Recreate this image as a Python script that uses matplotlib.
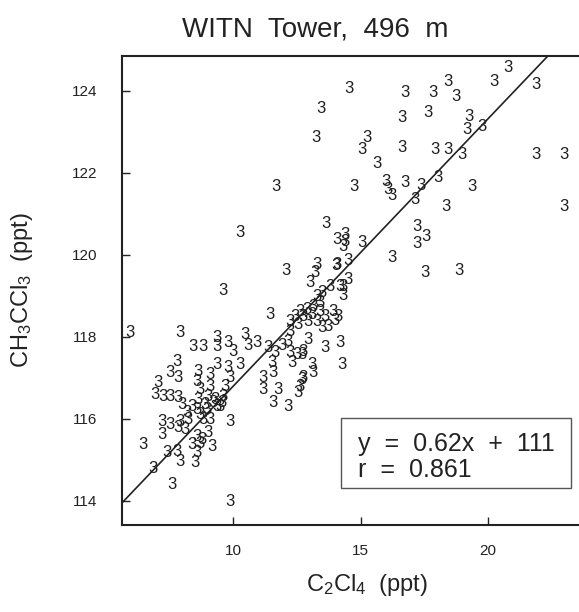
import matplotlib
matplotlib.use("Agg")
import matplotlib.pyplot as plt
from matplotlib.patches import Rectangle

plt.rcParams['font.family'] = ['Liberation Sans', 'DejaVu Sans']
plt.rcParams['mathtext.default'] = 'regular'

# C2Cl4 (ppt) and CH3CCl3 (ppt) pairs
c2cl4 = [
    20.78, 20.24, 21.88, 14.55, 16.75, 17.84, 18.43, 18.75, 13.45, 16.63,
    17.65, 19.25, 19.18, 19.76, 13.25, 15.25, 15.06, 16.63, 15.65, 17.92,
    18.43, 18.98, 21.88, 22.98, 14.75, 16.00, 16.08, 16.24, 16.75, 17.37,
    17.14, 18.04, 19.37, 18.35, 22.98, 11.69, 10.27, 13.65, 17.22, 17.57,
    17.22, 16.24, 17.53, 18.86, 14.08, 14.39, 14.39, 15.06, 14.04, 14.51,
    14.31, 14.51, 14.31, 14.31,
    12.08, 9.61, 11.45, 13.29, 13.22, 13.02, 13.49, 14.08, 14.20, 13.80,
    13.29, 13.41, 13.14, 12.90, 12.63, 12.43, 12.75, 13.10, 13.41, 13.61,
    13.29, 12.94, 13.49, 12.55, 12.24, 12.24, 13.92, 14.00, 13.73, 14.12,
    11.37, 11.65, 11.92, 12.16, 11.53, 11.57, 12.24, 12.31, 12.51, 12.71,
    12.94, 13.61, 13.10, 13.14, 12.75, 12.71, 12.63, 12.55, 11.18, 11.18,
    11.76, 11.57, 12.16, 10.94, 14.20, 14.27, 12.75,
    5.96, 7.92, 8.43, 8.82, 9.37, 9.37, 9.80, 10.00, 10.47, 10.59,
    7.80, 7.53, 7.84, 9.37, 9.80, 10.27, 7.06, 6.94, 7.25, 7.53,
    7.84, 8.00, 8.63, 8.59, 8.71, 8.63, 9.10, 9.10, 9.02, 9.69,
    9.61, 9.49, 9.88, 9.88, 7.22, 7.53, 7.92, 8.24, 8.12, 8.71,
    8.98, 9.10, 9.29, 9.37, 6.47, 6.86, 7.61, 7.41, 7.80, 7.92,
    8.39, 8.51, 8.59, 9.18, 8.78, 9.88, 7.22, 7.84, 8.20, 8.39,
    8.59, 8.59, 8.90, 9.22, 9.57, 8.82, 9.02, 8.71,
]
ch3ccl3 = [
    124.56, 124.24, 124.15, 124.05, 123.95, 123.95, 124.24, 123.85, 123.56, 123.34,
    123.46, 123.37, 123.05, 123.12, 122.85, 122.85, 122.56, 122.63, 122.24, 122.56,
    122.56, 122.44, 122.44, 122.44, 121.66, 121.78, 121.59, 121.44, 121.76, 121.68,
    121.34, 121.88, 121.66, 121.17, 121.17, 121.66, 120.54, 120.76, 120.68, 120.44,
    120.27, 119.93, 119.56, 119.63, 120.37, 120.49, 120.32, 120.29, 119.73, 119.85,
    119.22, 119.39, 119.02, 120.20,
    119.63, 119.12, 118.54, 119.76, 119.56, 119.32, 119.07, 119.76, 119.22, 119.22,
    118.98, 118.83, 118.73, 118.66, 118.61, 118.49, 118.49, 118.54, 118.61, 118.49,
    118.37, 118.37, 118.22, 118.29, 118.37, 118.12, 118.61, 118.41, 118.24, 118.49,
    117.73, 117.61, 117.80, 117.88, 117.37, 117.12, 117.61, 117.37, 117.56, 117.56,
    117.93, 117.73, 117.32, 117.12, 117.02, 116.95, 116.78, 116.63, 117.02, 116.71,
    116.71, 116.41, 116.29, 117.85, 117.85, 117.32, 117.63,
    118.10, 118.10, 117.76, 117.76, 117.76, 117.98, 117.85, 117.63, 118.05, 117.80,
    117.39, 117.12, 117.02, 117.32, 117.24, 117.32, 116.88, 116.59, 116.54, 116.54,
    116.51, 116.34, 117.15, 116.90, 116.71, 116.46, 117.07, 116.78, 116.54, 116.78,
    116.54, 116.29, 117.00, 115.93, 115.93, 115.85, 115.93, 115.98, 115.73, 116.10,
    116.22, 115.98, 116.46, 116.29, 115.37, 114.80, 114.39, 115.17, 115.20, 114.95,
    115.37, 114.93, 115.17, 115.32, 115.49, 113.98, 115.61, 115.80, 116.15, 116.29,
    115.56, 116.22, 116.34, 116.39, 116.39, 115.98, 115.66, 115.41,
]

# line as drawn on the plot
fit_slope = 0.653
fit_icpt = 110.26
fit_text = "y  =  0.62x  +  111\nr  =  0.861"

x_ticks = [10, 15, 20]
y_ticks = [114, 116, 118, 120, 122, 124]
x_lim = (5.65, 23.76)
y_lim = (113.41, 124.85)

fig = plt.figure(figsize=(5.79, 6.12), dpi=100)
ax = fig.add_axes([122 / 579, 1 - 525 / 612, (584 - 122) / 579, (525 - 56) / 612])

for x, y in zip(c2cl4, ch3ccl3):
    ax.text(x, y, '3', ha='center', va='center', fontsize=12, color='#1e1e1e', clip_on=True)

ax.plot(x_lim, [fit_icpt + fit_slope * v for v in x_lim], color='#222222', lw=1.2)

ax.set_xlim(*x_lim)
ax.set_ylim(*y_lim)
ax.set_xticks(x_ticks)
ax.set_yticks(y_ticks)
ax.tick_params(direction='in', length=6, width=1, labelsize=11, pad=14, colors='#222222')
ax.tick_params(axis='y', pad=18)
for s in ax.spines.values():
    s.set_linewidth(1.5)
    s.set_color('#222222')

fig.text(315 / 579, 1 - 30 / 612, 'WITN  Tower,  496  m', ha='center', va='center',
         fontsize=20, color='#222222')
fig.text(367 / 579, 1 - 585 / 612, 'C$_2$Cl$_4$  (ppt)', ha='center', va='center',
         fontsize=17, color='#222222')
fig.text(22 / 579, 1 - 290 / 612, 'CH$_3$CCl$_3$  (ppt)', ha='center', va='center',
         fontsize=17, rotation=90, color='#222222')

fig.patches.append(Rectangle((341 / 579, 1 - 488 / 612), 230 / 579, 70 / 612,
                             transform=fig.transFigure, facecolor='white',
                             edgecolor='#555555', lw=1.0))
fig.text(358 / 579, 1 - 457 / 612, fit_text, ha='left', va='center', fontsize=18,
         color='#222222', linespacing=1.15)

fig.savefig('out.png', dpi=100)
